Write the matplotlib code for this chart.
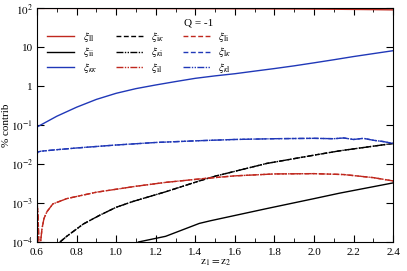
import numpy as np
import matplotlib.pyplot as plt

plt.rcParams['font.family'] = 'Liberation Serif'
plt.rcParams['mathtext.fontset'] = 'stix'

# values
z_kk = [0.6, 0.7, 0.8, 0.9, 1.0, 1.1, 1.2, 1.3, 1.4, 1.5, 1.6, 1.7, 1.8, 1.9, 2.0, 2.1, 2.2, 2.3, 2.4]
xi_kk = [0.09, 0.17, 0.29, 0.46, 0.66, 0.87, 1.08, 1.32, 1.6, 1.85, 2.1, 2.45, 2.85, 3.35, 4.0, 4.8, 5.8, 6.9, 8.2]
xi_ll = [99.9, 99.8, 99.7, 99.5, 99.3, 99.1, 98.9, 98.6, 98.3, 98.1, 97.8, 97.5, 97.1, 96.6, 96.0, 95.2, 94.2, 93.1, 91.7]

z_il = [0.6, 0.605, 0.611, 0.617, 0.625, 0.635, 0.65, 0.68, 0.75, 0.9, 1.1, 1.25, 1.45, 1.6, 1.8, 2.0, 2.15, 2.3, 2.4]
xi_il = [1.2e-3, 5e-4, 5e-5, 9e-5, 2.2e-4, 4e-4, 6e-4, 9.5e-4, 1.3e-3, 1.9e-3, 2.7e-3, 3.4e-3, 4.3e-3, 5.0e-3, 5.6e-3, 5.7e-3, 5.4e-3, 4.5e-3, 3.7e-3]

z_ik = [0.716, 0.75, 0.834, 0.918, 1.0, 1.085, 1.25, 1.42, 1.5, 1.76, 2.0, 2.13, 2.4]
xi_ik = [1e-4, 1.4e-4, 2.9e-4, 4.9e-4, 7.8e-4, 1.1e-3, 1.95e-3, 3.7e-3, 4.9e-3, 1.04e-2, 1.7e-2, 2.2e-2, 3.4e-2]

z_ii = [1.112, 1.25, 1.42, 1.475, 1.76, 2.0, 2.13, 2.4]
xi_ii = [1e-4, 1.4e-4, 3.0e-4, 3.5e-4, 7.2e-4, 1.3e-3, 1.8e-3, 3.3e-3]

z_kl = [0.6, 0.603, 0.62, 0.7, 0.8, 1.0, 1.2, 1.42, 1.6, 1.8, 2.0, 2.1, 2.15, 2.2, 2.25, 2.3, 2.35, 2.4]
xi_kl = [1.7e-2, 2.05e-2, 2.15e-2, 2.35e-2, 2.6e-2, 3.1e-2, 3.6e-2, 4.0e-2, 4.3e-2, 4.5e-2, 4.6e-2, 4.5e-2, 4.7e-2, 4.3e-2, 4.6e-2, 4.1e-2, 3.8e-2, 3.4e-2]

red = '#c0281e'
blue = '#2038b8'
dash = (0, (3.5, 1.8))
dashdotdot = (0, (5, 1, 1, 1, 1, 1))

fig = plt.figure(figsize=(4.07, 2.71), dpi=100)
ax = fig.add_axes([0.091, 0.107, 0.875, 0.862])

ax.plot(z_kk, xi_ll, color=red, lw=1.0, label=r'$\xi_\mathrm{ll}$')
ax.plot(z_ii, xi_ii, color='black', lw=1.0, label=r'$\xi_\mathrm{ii}$')
ax.plot(z_kk, xi_kk, color=blue, lw=1.0, label=r'$\xi_{\kappa\kappa}$')
ax.plot(z_ik, xi_ik, color='black', lw=1.0, ls=dash, label=r'$\xi_{\mathrm{i}\kappa}$')
ax.plot(z_ik, xi_ik, color='black', lw=1.0, ls=dashdotdot, label=r'$\xi_{\kappa\mathrm{i}}$')
ax.plot(z_il, xi_il, color=red, lw=1.0, ls=dashdotdot, label=r'$\xi_\mathrm{il}$')
ax.plot(z_il, xi_il, color=red, lw=1.0, ls=dash, label=r'$\xi_\mathrm{li}$')
ax.plot(z_kl, xi_kl, color=blue, lw=1.0, ls=dash, label=r'$\xi_{\mathrm{l}\kappa}$')
ax.plot(z_kl, xi_kl, color=blue, lw=1.0, ls=dashdotdot, label=r'$\xi_{\kappa\mathrm{l}}$')

ax.set_yscale('log')
ax.set_xlim(0.6, 2.4)
ax.set_ylim(1e-4, 1e2)
ax.set_xticks(np.arange(0.6, 2.41, 0.2))
ax.set_xticks(np.arange(0.7, 2.4, 0.2), minor=True)
ax.set_yticks([1e-4, 1e-3, 1e-2, 1e-1, 1, 10, 100])
ax.set_yticklabels([r'$10^{-4}$', r'$10^{-3}$', r'$10^{-2}$', r'$10^{-1}$', '1', '10', r'$10^{2}$'])
ax.yaxis.set_minor_locator(plt.NullLocator())
ax.tick_params(which='both', direction='in', top=True, right=True, labelsize=8)
ax.tick_params(axis='x', pad=4)
ax.tick_params(axis='y', pad=3)
ax.tick_params(which='major', length=5)
ax.tick_params(which='minor', length=3)

ax.set_xlabel(r'$\mathrm{z_1 = z_2}$', fontsize=8, labelpad=1)
ax.set_ylabel('% contrib', fontsize=8, labelpad=0)

ax.text(0.455, 0.938, 'Q = -1', transform=ax.transAxes, fontsize=8, ha='center', va='center')

ax.legend(ncol=3, loc='upper left', bbox_to_anchor=(0.0, 0.95), frameon=False, fontsize=8,
          handlelength=2.45, columnspacing=1.7, labelspacing=0.12, handletextpad=0.75)

plt.savefig('out.png', dpi=100)
